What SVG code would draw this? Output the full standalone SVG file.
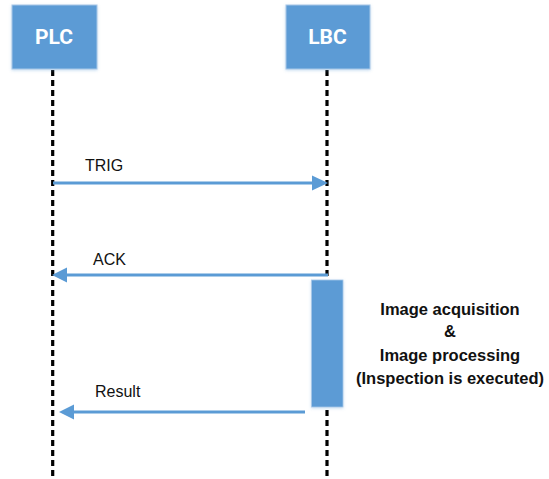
<svg xmlns="http://www.w3.org/2000/svg" width="549" height="479" viewBox="0 0 549 479">
<style>
.box{fill:#5B9BD5;stroke:#A9C8E8;stroke-width:1}
.title{font-family:Roboto,"Liberation Sans",sans-serif;font-weight:bold;font-size:21px;fill:#fff;text-anchor:middle}
.life{stroke:#000;stroke-width:3.2;stroke-dasharray:6 4;fill:none}
.msg{stroke:#5B9BD5;stroke-width:3;fill:none}
.lbl{font-family:"Liberation Sans",Arial,sans-serif;font-size:16px;fill:#111}
.note{font-family:"Liberation Sans",Arial,sans-serif;font-weight:bold;font-size:16.5px;fill:#111;text-anchor:middle}
.head{fill:#5B9BD5}
</style>
<defs>
<filter id="sh" x="-20%" y="-20%" width="140%" height="140%">
<feDropShadow dx="0" dy="1" stdDeviation="1.5" flood-color="#5B9BD5" flood-opacity="0.35"/>
</filter>
</defs>
<g id="lifelines">
<line class="life" x1="52.7" y1="70" x2="52.7" y2="479"/>
<line class="life" x1="327" y1="70" x2="327" y2="479"/>
</g>
<g id="PLC">
<rect class="box" x="12" y="5" width="85" height="64" filter="url(#sh)"/>
<text class="title" x="54" y="44">PLC</text>
</g>
<g id="LBC">
<rect class="box" x="286" y="5" width="84" height="64" filter="url(#sh)"/>
<text class="title" x="327.5" y="44">LBC</text>
</g>
<g id="activation">
<rect x="311.5" y="280" width="31.5" height="127" fill="#5B9BD5" stroke="#A9C8E8" stroke-width="0.8" filter="url(#sh)"/>
<text class="note" x="450" y="315">Image acquisition</text>
<text class="note" x="450" y="337">&amp;</text>
<text class="note" x="450" y="361">Image processing</text>
<text class="note" x="450" y="384">(Inspection is executed)</text>
</g>
<g id="connectors">
<line class="msg" x1="53" y1="183" x2="313" y2="183"/>
<polygon class="head" points="328,183 312,175.5 312,190.5"/>
<text class="lbl" x="85" y="171">TRIG</text>
<line class="msg" x1="328" y1="275" x2="66" y2="275"/>
<polygon class="head" points="52,275 67,267.5 67,282.5"/>
<text class="lbl" x="93" y="265">ACK</text>
<line class="msg" x1="305" y1="412" x2="72" y2="412"/>
<polygon class="head" points="59,412 74,404.5 74,419.5"/>
<text class="lbl" x="95" y="397">Result</text>
</g>
</svg>
